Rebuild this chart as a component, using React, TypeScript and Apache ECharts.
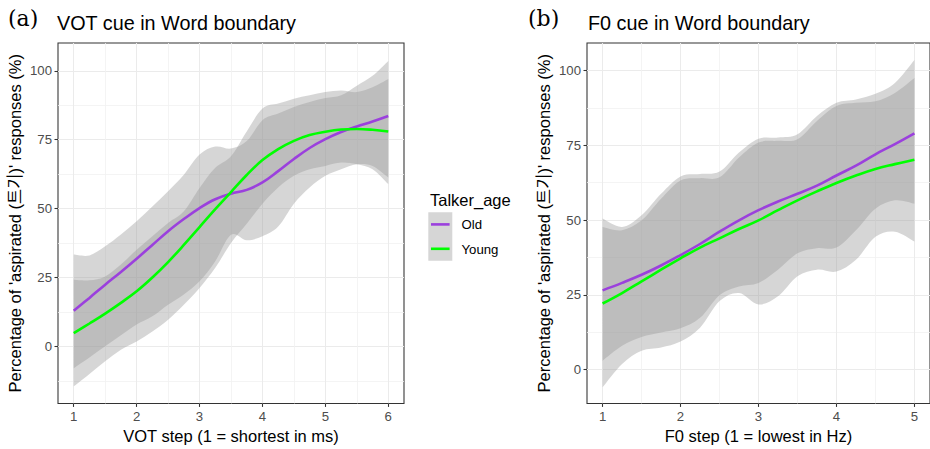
import React, { useEffect, useRef } from 'react';
import * as echarts from 'echarts';

// ---------- data ----------
const votSteps = [1, 1.25, 1.5, 1.75, 2, 2.25, 2.5, 2.75, 3, 3.25, 3.5, 3.75, 4, 4.25, 4.5, 4.75, 5, 5.25, 5.5, 5.75, 6];
const votOldFit = [12.9, 17.6, 22.4, 27.0, 31.8, 36.8, 41.8, 46.2, 50.2, 53.4, 55.4, 56.8, 59.5, 63.6, 68.0, 72.0, 75.2, 77.8, 79.8, 81.6, 83.6];
const votYoungFit = [4.8, 8.3, 11.9, 15.8, 20.0, 25.0, 30.6, 36.8, 43.3, 49.8, 56.0, 62.2, 67.6, 71.6, 74.6, 76.7, 77.9, 78.7, 78.9, 78.6, 78.0];
const votOldLower = [-7.9, -4.0, 0.0, 4.0, 7.9, 10.9, 15.1, 18.8, 23.6, 30.9, 40.5, 38.5, 40.0, 43.5, 51.8, 57.7, 61.9, 64.3, 66.1, 65.5, 61.3];
const votOldUpper = [33.3, 33.0, 36.3, 40.6, 45.4, 50.8, 56.3, 62.3, 69.6, 72.5, 71.8, 74.5, 82.1, 84.5, 86.9, 88.7, 90.1, 91.1, 94.6, 98.2, 103.6];
const votYoungLower = [-14.5, -10.0, -5.4, -1.2, 1.8, 5.4, 9.7, 15.1, 21.2, 28.5, 37.5, 44.5, 51.8, 57.7, 61.9, 64.3, 65.5, 66.7, 66.1, 64.3, 58.9];
const votYoungUpper = [24.2, 24.0, 25.4, 29.7, 35.1, 40.0, 44.8, 49.0, 57.5, 64.8, 69.0, 78.0, 86.3, 88.1, 89.9, 91.1, 92.3, 92.9, 92.3, 94.0, 97.0];

const f0Steps = [1, 1.25, 1.5, 1.75, 2, 2.25, 2.5, 2.75, 3, 3.25, 3.5, 3.75, 4, 4.25, 4.5, 4.75, 5];
const f0OldFit = [26.5, 29.0, 31.7, 34.8, 38.3, 42.0, 46.1, 49.9, 53.3, 56.2, 58.8, 61.5, 64.9, 68.2, 72.0, 75.4, 79.0];
const f0YoungFit = [22.1, 25.6, 29.5, 33.4, 37.2, 40.8, 43.9, 47.0, 49.9, 53.3, 56.6, 59.6, 62.4, 64.9, 67.1, 68.7, 70.2];
const f0OldLower = [3.0, 8.0, 10.9, 12.4, 13.8, 17.3, 24.9, 27.8, 29.0, 33.4, 38.9, 40.6, 40.8, 46.6, 53.8, 56.6, 55.5];
const f0OldUpper = [50.5, 47.7, 51.6, 58.8, 64.6, 65.4, 66.2, 72.6, 77.2, 77.6, 78.7, 84.8, 89.2, 90.3, 92.2, 95.8, 103.5];
const f0YoungLower = [-5.9, 1.9, 6.3, 7.4, 9.4, 14.0, 22.9, 25.6, 21.8, 24.5, 31.2, 33.4, 32.8, 36.7, 44.4, 46.1, 42.8];
const f0YoungUpper = [47.7, 46.6, 49.9, 57.1, 63.2, 64.0, 64.3, 70.9, 75.9, 76.5, 77.0, 83.1, 88.1, 89.2, 89.7, 92.5, 97.5];

const yTicks = [0, 25, 50, 75, 100];
const yMinorLeft = [-12.5, 12.5, 37.5, 62.5, 87.5];
const yMinorRight = [12.5, 37.5, 62.5, 87.5];
const votTicks = [1, 2, 3, 4, 5, 6];
const votMinor = [1.5, 2.5, 3.5, 4.5, 5.5];
const f0Ticks = [1, 2, 3, 4, 5];
const f0Minor = [1.5, 2.5, 3.5, 4.5];

const groups = ['Old', 'Young'];
const groupColors = ['#9B40DD', '#00FF00'];

const titleA = 'VOT cue in Word boundary';
const titleB = 'F0 cue in Word boundary';
const xTitleA = 'VOT step (1 = shortest in ms)';
const xTitleB = 'F0 step (1 = lowest in Hz)';
const yTitle = "Percentage of 'aspirated (트기)' responses (%)";
const legendTitle = 'Talker_age';

// ---------- styling ----------
const FONT = '"Liberation Sans", Arial, "Noto Sans CJK KR", sans-serif';
const SERIF = '"DejaVu Serif", "Liberation Serif", serif';

function pairs(xs: number[], ys: number[]) {
  return xs.map((x, i) => [x, ys[i]]);
}

// Catmull-Rom smoothed path through pixel points
function curvePath(pts: number[][], start: 'M' | 'L') {
  let d = `${start}${pts[0][0].toFixed(2)},${pts[0][1].toFixed(2)}`;
  const n = pts.length;
  for (let i = 0; i < n - 1; i++) {
    const p0 = pts[Math.max(0, i - 1)];
    const p1 = pts[i];
    const p2 = pts[i + 1];
    const p3 = pts[Math.min(n - 1, i + 2)];
    const c1x = p1[0] + (p2[0] - p0[0]) / 6;
    const c1y = p1[1] + (p2[1] - p0[1]) / 6;
    const c2x = p2[0] - (p3[0] - p1[0]) / 6;
    const c2y = p2[1] - (p3[1] - p1[1]) / 6;
    d += `C${c1x.toFixed(2)},${c1y.toFixed(2)} ${c2x.toFixed(2)},${c2y.toFixed(2)} ${p2[0].toFixed(2)},${p2[1].toFixed(2)}`;
  }
  return d;
}

function band(id: string, xs: number[], lo: number[], hi: number[], xi: number, yi: number) {
  return {
    type: 'custom', id, xAxisIndex: xi, yAxisIndex: yi, silent: true, z: 1,
    data: xs.map((x, i) => [x, lo[i], hi[i]]),
    encode: { x: 0, y: [1, 2] },
    renderItem: (params: any, api: any) => {
      if (params.dataIndex !== 0) return null;
      const top = xs.map((x, i) => api.coord([x, hi[i]]));
      const bottom = xs.map((x, i) => api.coord([x, lo[i]])).reverse();
      const d = curvePath(top, 'M') + curvePath(bottom, 'L') + 'Z';
      return {
        type: 'path',
        shape: { pathData: d },
        style: { fill: 'rgba(153,153,153,0.4)', stroke: 'none' },
      };
    },
  };
}

function fit(id: string, xs: number[], ys: number[], color: string, xi: number, yi: number) {
  return {
    type: 'line', id, xAxisIndex: xi, yAxisIndex: yi, data: pairs(xs, ys), smooth: 0.4,
    symbol: 'none', silent: true, lineStyle: { color, width: 2.6 }, z: 3,
  };
}

const tickLabel = { fontFamily: FONT, fontSize: 13.2, color: '#4D4D4D' };
const axisName = { fontFamily: FONT, fontSize: 16.5, color: '#000000' };

function mainX(gridIndex: number, min: number, max: number, ticks: number[], name: string) {
  return {
    gridIndex, type: 'value', min, max, name, nameLocation: 'middle', nameGap: 19,
    nameTextStyle: axisName, position: 'bottom',
    axisLine: { show: false, onZero: false },
    axisTick: { show: true, length: 3.5, lineStyle: { color: '#333333', width: 1.07 }, customValues: ticks },
    axisLabel: { ...tickLabel, margin: 6, customValues: ticks },
    splitLine: { show: true, lineStyle: { color: '#EBEBEB', width: 1.07 } },
  };
}
function minorX(gridIndex: number, min: number, max: number, ticks: number[]) {
  return {
    gridIndex, type: 'value', min, max, position: 'top',
    axisLine: { show: false, onZero: false },
    axisTick: { show: false, customValues: ticks },
    axisLabel: { show: false, customValues: ticks },
    splitLine: { show: true, lineStyle: { color: '#F1F1F1', width: 0.8 } },
  };
}
function mainY(gridIndex: number, min: number, max: number, ticks: number[], name: string) {
  return {
    gridIndex, type: 'value', min, max, name, nameLocation: 'middle', nameGap: 35,
    nameTextStyle: axisName, position: 'left',
    axisLine: { show: false, onZero: false },
    axisTick: { show: true, length: 3.5, lineStyle: { color: '#333333', width: 1.07 }, customValues: ticks },
    axisLabel: { ...tickLabel, margin: 6, customValues: ticks },
    splitLine: { show: true, lineStyle: { color: '#EBEBEB', width: 1.07 } },
  };
}
function minorY(gridIndex: number, min: number, max: number, ticks: number[]) {
  return {
    gridIndex, type: 'value', min, max, position: 'right',
    axisLine: { show: false, onZero: false },
    axisTick: { show: false, customValues: ticks },
    axisLabel: { show: false, customValues: ticks },
    splitLine: { show: true, lineStyle: { color: '#F1F1F1', width: 0.8 } },
  };
}

function text(x: number, y: number, t: string, size: number, family: string) {
  return {
    type: 'text', x, y, silent: true,
    style: {
      text: t, fontSize: size, fontFamily: family, fill: '#000000',
      textAlign: 'left', align: 'left', textVerticalAlign: 'middle', verticalAlign: 'middle',
    },
  };
}

export default function App() {
  const ref = useRef<HTMLDivElement>(null);
  useEffect(() => {
    if (!ref.current) return;
    const chart = echarts.init(ref.current, undefined, { renderer: 'svg' });
    const gridStyle = { show: true, backgroundColor: '#FFFFFF', borderColor: '#333333', borderWidth: 1.07 };
    const option: any = {
      animation: false,
      backgroundColor: '#FFFFFF',
      grid: [
        { left: 58, top: 43, width: 346, height: 362, ...gridStyle },
        { left: 587, top: 43, width: 347, height: 363, ...gridStyle },
      ],
      xAxis: [
        mainX(0, 0.75, 6.25, votTicks, xTitleA),
        minorX(0, 0.75, 6.25, votMinor),
        mainX(1, 0.8, 5.2, f0Ticks, xTitleB),
        minorX(1, 0.8, 5.2, f0Minor),
      ],
      yAxis: [
        mainY(0, -20.7, 110.1, yTicks, yTitle),
        minorY(0, -20.7, 110.1, yMinorLeft),
        mainY(1, -11.3, 109.2, yTicks, yTitle),
        minorY(1, -11.3, 109.2, yMinorRight),
      ],
      series: [
        band('vot-old', votSteps, votOldLower, votOldUpper, 0, 0),
        band('vot-young', votSteps, votYoungLower, votYoungUpper, 0, 0),
        fit('vot-old-fit', votSteps, votOldFit, groupColors[0], 0, 0),
        fit('vot-young-fit', votSteps, votYoungFit, groupColors[1], 0, 0),
        band('f0-old', f0Steps, f0OldLower, f0OldUpper, 2, 2),
        band('f0-young', f0Steps, f0YoungLower, f0YoungUpper, 2, 2),
        fit('f0-old-fit', f0Steps, f0OldFit, groupColors[0], 2, 2),
        fit('f0-young-fit', f0Steps, f0YoungFit, groupColors[1], 2, 2),
      ],
      graphic: [
        text(8, 18.5, '(a)', 22, SERIF),
        text(57, 23, titleA, 19.8, FONT),
        text(528, 18.5, '(b)', 22, SERIF),
        text(588, 23, titleB, 19.8, FONT),
        text(430, 199.5, legendTitle, 16.5, FONT),
        {
          type: 'rect', silent: true,
          shape: { x: 428.3, y: 212.3, width: 24, height: 48.4 },
          style: { fill: 'rgba(153,153,153,0.4)' },
        },
        {
          type: 'line', silent: true,
          shape: { x1: 431, y1: 224.4, x2: 449.6, y2: 224.4 },
          style: { stroke: groupColors[0], lineWidth: 2.6 },
        },
        {
          type: 'line', silent: true,
          shape: { x1: 431, y1: 248.8, x2: 449.6, y2: 248.8 },
          style: { stroke: groupColors[1], lineWidth: 2.6 },
        },
        text(461.5, 224.6, groups[0], 13.2, FONT),
        text(461.5, 249, groups[1], 13.2, FONT),
      ],
    };
    chart.setOption(option);
    return () => chart.dispose();
  }, []);
  return <div ref={ref} style={{ position: 'absolute', left: 0, top: 0, width: 930, height: 449 }} />;
}
